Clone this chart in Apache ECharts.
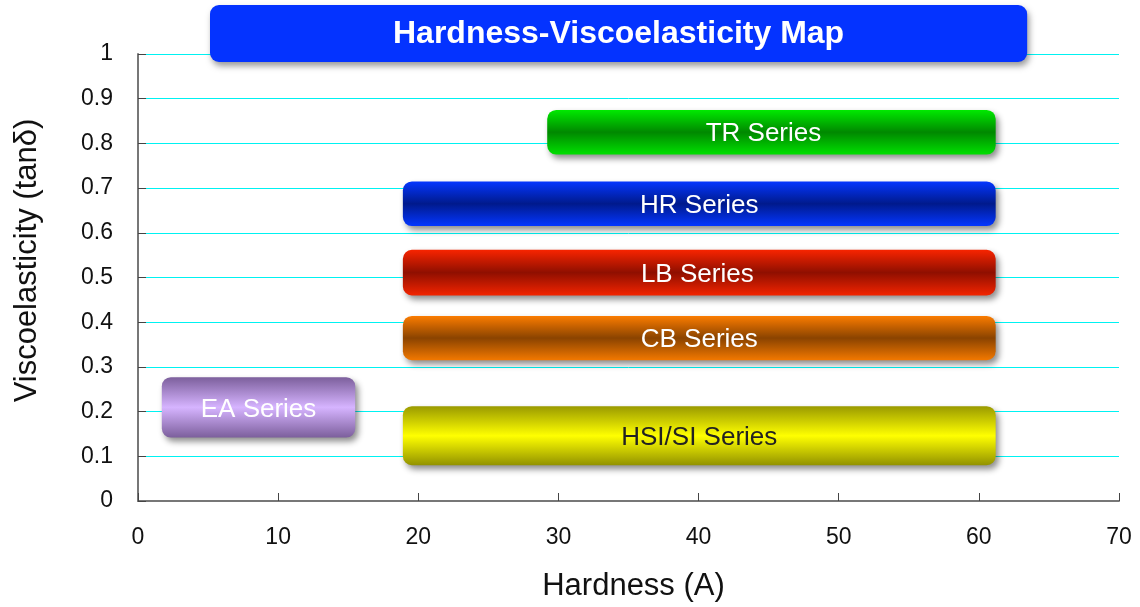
<!DOCTYPE html>
<html>
<head>
<meta charset="utf-8">
<title>Hardness-Viscoelasticity Map</title>
<script src="https://cdn.jsdelivr.net/npm/echarts@6/dist/echarts.min.js"></script>
<style>
	html, body { margin: 0; padding: 0; background: #fff; }
	#chart { width: 1140px; height: 607px; }
</style>
</head>
<body>
<div id="chart"></div>
<script>
// 系列名称与范围（硬度 A / tanδ）
const seriesNames = ['TR Series', 'HR Series', 'LB Series', 'CB Series', 'HSI/SI Series', 'EA Series'];
const hardnessMin = [29.2, 18.9, 18.9, 18.9, 18.9, 1.7];
const hardnessMax = [61.2, 61.2, 61.2, 61.2, 61.2, 15.5];
const tanMin = [0.775, 0.615, 0.46, 0.315, 0.08, 0.142];
const tanMax = [0.875, 0.715, 0.562, 0.414, 0.212, 0.277];

// 渐变色：上 / 中 / 下
const gradTop = ['#00ea00', '#0436ff', '#f82400', '#fb7c00', '#9a9a00', '#7c5f9c'];
const gradMid = ['#008800', '#001a8c', '#8f0f00', '#8a4300', '#ffff00', '#d6b4ff'];
const gradBot = ['#00e000', '#0436ff', '#f22400', '#f27800', '#929200', '#7c5f9c'];
const labelColors = ['#fff', '#fff', '#fff', '#fff', '#222', '#fff'];
// 标签水平微调(px)
const labelShift = [-8, 0, -2, 0, 0, 0];

const chart = echarts.init(document.getElementById('chart'));

const data = seriesNames.map((name, i) => [hardnessMin[i], hardnessMax[i], tanMin[i], tanMax[i], name]);

chart.setOption({
	animation: false,
	title: {
		text: 'Hardness-Viscoelasticity Map',
		left: 210,
		top: 5,
		padding: [13, 183, 12, 183],
		backgroundColor: '#0433ff',
		borderRadius: 9,
		shadowBlur: 6,
		shadowOffsetX: 2,
		shadowOffsetY: 4,
		shadowColor: 'rgba(0,0,0,0.4)',
		textStyle: { color: '#fff', fontSize: 32, fontWeight: 'bold', fontFamily: 'Liberation Sans', lineHeight: 32 }
	},
	grid: { left: 138, right: 21, top: 54, bottom: 102, containLabel: false },
	xAxis: {
		type: 'value', min: 0, max: 70, interval: 10,
		name: 'Hardness (A)', nameLocation: 'middle', nameGap: 70,
		nameTextStyle: { color: '#111', fontSize: 31, fontFamily: 'Liberation Sans', padding: [0, 0, 0, 10] },
		axisLine: { show: true, lineStyle: { color: '#777', width: 2 } },
		axisTick: { show: true, inside: true, length: 8, lineStyle: { color: '#444' } },
		axisLabel: { color: '#111', fontSize: 23, fontFamily: 'Liberation Sans', margin: 25 },
		splitLine: { show: false }
	},
	yAxis: {
		type: 'value', min: 0, max: 1, interval: 0.1,
		name: 'Viscoelasticity (tanδ)', nameLocation: 'middle', nameGap: 95, nameRotate: 90,
		nameTextStyle: { color: '#111', fontSize: 31, fontFamily: 'Liberation Sans', padding: [0, 0, 0, 34] },
		axisLine: { show: true, lineStyle: { color: '#777', width: 2 } },
		axisTick: { show: true, inside: true, length: 8, lineStyle: { color: '#444' } },
		axisLabel: { color: '#111', fontSize: 23, fontFamily: 'Liberation Sans', margin: 25 },
		splitLine: { show: true, lineStyle: { color: '#00f2f2', width: 1 } }
	},
	series: [{
		type: 'custom',
		clip: false,
		data: data,
		encode: { x: [0, 1], y: [2, 3] },
		renderItem: (params, api) => {
			const i = params.dataIndex;
			const tl = api.coord([api.value(0), api.value(3)]);
			const br = api.coord([api.value(1), api.value(2)]);
			const w = br[0] - tl[0];
			const h = br[1] - tl[1];
			return {
				type: 'group',
				children: [{
					type: 'rect',
					shape: { x: tl[0], y: tl[1], width: w, height: h, r: 9 },
					style: {
						fill: new echarts.graphic.LinearGradient(0, 0, 0, 1, [
							{ offset: 0, color: gradTop[i] },
							{ offset: 0.5, color: gradMid[i] },
							{ offset: 1, color: gradBot[i] }
						]),
						shadowBlur: 6,
						shadowOffsetX: 3,
						shadowOffsetY: 4,
						shadowColor: 'rgba(0,0,0,0.45)'
					}
				}, {
					type: 'text',
					x: tl[0] + w / 2 + labelShift[i],
					y: tl[1] + h / 2 + 2,
					style: {
						text: api.value(4),
						fill: labelColors[i],
						fontSize: 26,
						fontFamily: 'Liberation Sans',
						align: 'center',
						verticalAlign: 'middle'
					}
				}]
			};
		}
	}]
});
</script>
</body>
</html>
